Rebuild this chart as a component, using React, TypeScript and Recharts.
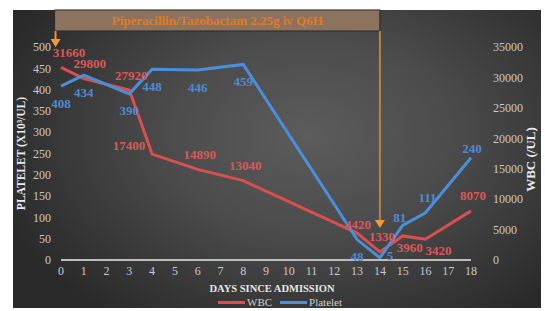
import React from "react";
import { LineChart, Line, XAxis, YAxis, ReferenceArea, ReferenceLine, LabelList } from "recharts";

// days on which labs were drawn
const days = [0, 1, 3, 4, 6, 8, 13, 14, 15, 16, 18];
const wbc = [31660, 29800, 27920, 17400, 14890, 13040, 4420, 1330, 3960, 3420, 8070];
const platelet = [408, 434, 390, 448, 446, 459, 48, 5, 81, 111, 240];

const dayTicks = [0, 1, 2, 3, 4, 5, 6, 7, 8, 9, 10, 11, 12, 13, 14, 15, 16, 17, 18];
const plateletTicks = [0, 50, 100, 150, 200, 250, 300, 350, 400, 450, 500];
const wbcTicks = [0, 5000, 10000, 15000, 20000, 25000, 30000, 35000];

// where each value label sits relative to its point
const wbcLabelSide = ["topRight", "topFar", "top", "left", "top", "top", "topNear", "top", "bottomRight", "bottomFar", "top"];
const plateletLabelSide = ["bottom", "bottom", "bottom", "bottom", "bottom", "bottom", "bottom", "right", "topLeft", "top", "topNear"];

const therapy = "Piperacillin/Tazobactam 2.25g iv Q6H";

const RED = "#d9504f";
const BLUE = "#4a8fdc";
const FONT = "'Liberation Serif', 'DejaVu Serif', serif";

const sideOffset: Record<string, [number, number]> = {
  top: [2, -15],
  topFar: [6, -15],
  topNear: [1, -9],
  topRight: [8, -15],
  topLeft: [-3, -8],
  left: [-23, -9],
  right: [10, -2],
  bottom: [0, 17],
  bottomRight: [7, 12],
  bottomFar: [13, 11],
};

const data = days.map((d, i) => ({ day: d, wbc: wbc[i], platelet: platelet[i] }));

function valueLabel(sides: string[], color: string) {
  return (props: any) => {
    const { x, y, value, index } = props;
    const [dx, dy] = sideOffset[sides[index]] || [0, -12];
    return (
      <text
        x={x + dx}
        y={y + dy}
        fill={color}
        fontSize={13}
        fontWeight="bold"
        fontFamily={FONT}
        textAnchor="middle"
        dominantBaseline="central"
      >
        {value}
      </text>
    );
  };
}

function Arrow(props: any) {
  const { x1, y1, x2, y2, stroke } = props;
  const tipY = Math.max(y1, y2);
  const topY = Math.min(y1, y2);
  const x = (x1 + x2) / 2;
  return (
    <g>
      <line x1={x} y1={topY} x2={x} y2={tipY - 4} stroke={stroke} strokeWidth={2} />
      <polygon points={`${x - 5},${tipY - 8} ${x + 5},${tipY - 8} ${x},${tipY}`} fill="#f29a3a" />
    </g>
  );
}

export default function App() {
  return (
    <div style={{ position: "absolute", left: 0, top: 0, width: 545, height: 311, background: "#fff", overflow: "hidden" }}>
      <div
        style={{
          position: "absolute",
          left: 13,
          top: 10,
          width: 528,
          height: 298,
          background: "radial-gradient(ellipse 62% 75% at 56% 42%, #5c5c5c 0%, #4b4b4b 45%, #2a2a2a 100%)",
        }}
      />
      <div style={{ position: "absolute", left: 0, top: 0 }}>
        <LineChart width={545} height={311} data={data} margin={{ top: 47, right: 0, bottom: 0, left: 0 }}>
          <XAxis
            dataKey="day"
            type="number"
            domain={[0, 18]}
            ticks={dayTicks}
            interval={0}
            height={51}
            tickLine={false}
            tickSize={0}
            tickMargin={6}
            axisLine={{ stroke: "#bdbdbd", strokeWidth: 2 }}
            tick={{ fill: "#c9c9c9", fontSize: 12, fontFamily: FONT }}
            label={{
              content: (p: any) => (
                <text
                  x={p.viewBox.x + p.viewBox.width / 2 + 6}
                  y={288}
                  fill="#e6e6e6"
                  fontSize={10.5}
                  fontWeight="bold"
                  fontFamily={FONT}
                  textAnchor="middle"
                  dominantBaseline="central"
                >
                  DAYS SINCE ADMISSION
                </text>
              ),
            }}
          />
          <YAxis
            yAxisId="left"
            domain={[0, 500]}
            ticks={plateletTicks}
            width={61}
            axisLine={false}
            tickLine={false}
            tickSize={0}
            tickMargin={10}
            tick={{ fill: "#c9c9c9", fontSize: 12, fontFamily: FONT }}
            label={{
              content: (p: any) => {
                const cx = 21;
                const cy = p.viewBox.y + p.viewBox.height / 2;
                return (
                  <text
                    x={cx}
                    y={cy}
                    transform={`rotate(-90 ${cx} ${cy})`}
                    fill="#ececec"
                    fontSize={11.5}
                    fontWeight="bold"
                    fontFamily={FONT}
                    textAnchor="middle"
                    dominantBaseline="central"
                  >
                    PLATELET (X10³/UL)
                  </text>
                );
              },
            }}
          />
          <YAxis
            yAxisId="right"
            orientation="right"
            domain={[0, 35000]}
            ticks={wbcTicks}
            width={74}
            axisLine={false}
            tickLine={false}
            tickSize={0}
            tickMargin={22}
            tick={{ fill: "#c9c9c9", fontSize: 12, fontFamily: FONT }}
            label={{
              content: (p: any) => {
                const cx = p.viewBox.x + 59;
                const cy = p.viewBox.y + p.viewBox.height / 2 + 6;
                return (
                  <text
                    x={cx}
                    y={cy}
                    transform={`rotate(-90 ${cx} ${cy})`}
                    fill="#ececec"
                    fontSize={13}
                    fontWeight="bold"
                    fontFamily={FONT}
                    textAnchor="middle"
                    dominantBaseline="central"
                  >
                    WBC (/UL)
                  </text>
                );
              },
            }}
          />
          <ReferenceArea
            yAxisId="left"
            x1={-0.28}
            x2={14}
            y1={537.6}
            y2={587}
            ifOverflow="visible"
            fill="#8c735f"
            fillOpacity={1}
            stroke="#2a2a2a"
            strokeWidth={1}
            label={{
              value: therapy,
              position: "center",
              fill: "#e27b22",
              fontSize: 13,
              fontWeight: "bold",
              fontFamily: FONT,
            }}
          />
          <ReferenceLine
            yAxisId="left"
            segment={[{ x: -0.24, y: 537.6 }, { x: -0.24, y: 500 }]}
            ifOverflow="visible"
            stroke="#e8963e"
            shape={<Arrow />}
          />
          <ReferenceLine
            yAxisId="left"
            segment={[{ x: 14, y: 537.6 }, { x: 14, y: 75 }]}
            ifOverflow="visible"
            stroke="#b08457"
            shape={<Arrow />}
          />
          <Line
            yAxisId="right"
            type="linear"
            dataKey="wbc"
            stroke={RED}
            strokeWidth={3}
            dot={false}
            isAnimationActive={false}
          >
            <LabelList dataKey="wbc" content={valueLabel(wbcLabelSide, "#dc5858")} />
          </Line>
          <Line
            yAxisId="left"
            type="linear"
            dataKey="platelet"
            stroke={BLUE}
            strokeWidth={3}
            dot={false}
            isAnimationActive={false}
          >
            <LabelList dataKey="platelet" content={valueLabel(plateletLabelSide, "#4d8bd4")} />
          </Line>
        </LineChart>
      </div>
      <div
        style={{
          position: "absolute",
          left: 218,
          top: 296,
          display: "flex",
          alignItems: "center",
          fontFamily: FONT,
          fontSize: 11,
          color: "#cfcfcf",
          lineHeight: "13px",
        }}
      >
        <span style={{ display: "inline-block", width: 27, height: 3, background: RED, marginRight: 2 }} />
        <span style={{ marginRight: 8 }}>WBC</span>
        <span style={{ display: "inline-block", width: 27, height: 3, background: BLUE, marginRight: 2 }} />
        <span>Platelet</span>
      </div>
    </div>
  );
}
